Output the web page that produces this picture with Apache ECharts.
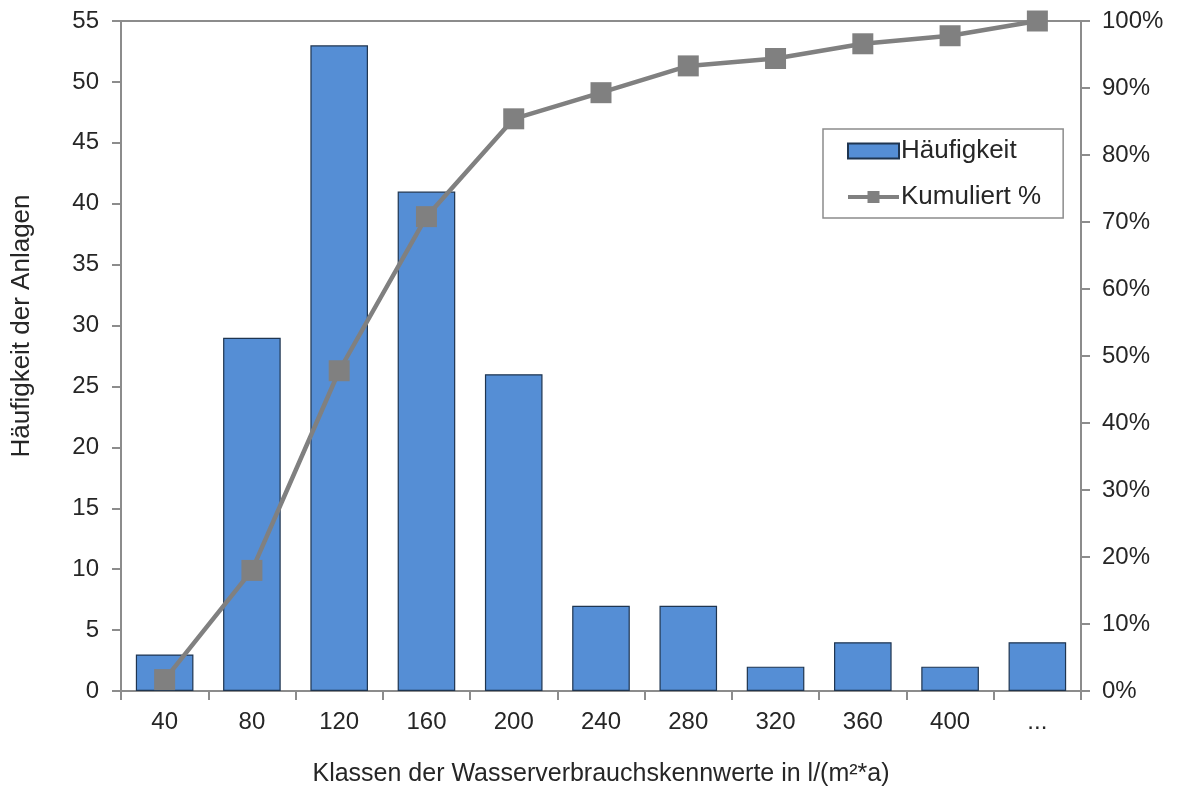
<!DOCTYPE html>
<html>
<head>
<meta charset="utf-8">
<script src="https://cdn.jsdelivr.net/npm/echarts@6/dist/echarts.min.js"></script>
<style>
  html, body { margin: 0; padding: 0; background: #fff; }
  #chart { width: 1178px; height: 796px; }
</style>
</head>
<body>
<div id="chart"></div>
<script>
const classes    = ['40', '80', '120', '160', '200', '240', '280', '320', '360', '400', '...'];
const frequency  = [3, 29, 53, 41, 26, 7, 7, 2, 4, 2, 4];
const cumulative = [1.7, 18.0, 47.8, 70.8, 85.4, 89.3, 93.3, 94.4, 96.6, 97.8, 100];

const axisGrey = '#8c8c8c';
const textCol  = '#262626';
const font     = 'Liberation Sans, Arial, sans-serif';

const chart = echarts.init(document.getElementById('chart'), null, { renderer: 'canvas' });

chart.setOption({
    animation: false,
    textStyle: { fontFamily: font, color: textCol },
    grid: {
        left: 121, right: 97, top: 21, bottom: 105,
        show: true, borderColor: axisGrey, borderWidth: 2, backgroundColor: 'transparent'
    },
    legend: {
        orient: 'vertical',
        left: 823, top: 129,
        padding: [9, 22, 8, 23],
        itemGap: 20,
        itemWidth: 51, itemHeight: 15,
        borderColor: axisGrey, borderWidth: 1.5,
        lineStyle: { width: 4 },
        textStyle: { fontSize: 26, color: textCol, fontFamily: font, padding: [0, 0, 0, -3] },
        data: [
            { name: 'Häufigkeit', icon: 'rect' },
            { name: 'Kumuliert %' }
        ]
    },
    xAxis: {
        type: 'category',
        data: classes,
        name: 'Klassen der Wasserverbrauchskennwerte in l/(m²*a)',
        nameLocation: 'middle',
        nameGap: 71,
        nameTextStyle: { fontSize: 25, color: textCol },
        axisLine: { lineStyle: { color: axisGrey, width: 2 } },
        axisTick: { show: true, length: 9, lineStyle: { color: axisGrey, width: 2 } },
        axisLabel: { fontSize: 24, color: textCol, margin: 19 }
    },
    yAxis: [
        {
            type: 'value',
            min: 0, max: 55, interval: 5,
            name: 'Häufigkeit der Anlagen',
            nameLocation: 'middle',
            nameGap: 86,
            nameTextStyle: { fontSize: 26, color: textCol, padding: [0, 0, 0, 60] },
            axisLine: { show: true, lineStyle: { color: axisGrey, width: 2 } },
            axisTick: { show: true, length: 9, lineStyle: { color: axisGrey, width: 2 } },
            axisLabel: { fontSize: 24, color: textCol, margin: 22 },
            splitLine: { show: false }
        },
        {
            type: 'value',
            min: 0, max: 100, interval: 10,
            position: 'right',
            axisLine: { show: true, lineStyle: { color: axisGrey, width: 2 } },
            axisTick: { show: true, length: 9, lineStyle: { color: axisGrey, width: 2 } },
            axisLabel: { fontSize: 24, color: textCol, margin: 21, formatter: '{value}%' },
            splitLine: { show: false }
        }
    ],
    series: [
        {
            name: 'Häufigkeit',
            type: 'bar',
            data: frequency,
            barCategoryGap: '34%',
            itemStyle: { color: '#558ed5', borderColor: '#1f3550', borderWidth: 1.2 }
        },
        {
            name: 'Kumuliert %',
            type: 'line',
            yAxisIndex: 1,
            data: cumulative,
            symbol: 'rect',
            symbolSize: 21,
            lineStyle: { color: '#808080', width: 4.5 },
            itemStyle: { color: '#808080' }
        }
    ]
});
</script>
</body>
</html>
